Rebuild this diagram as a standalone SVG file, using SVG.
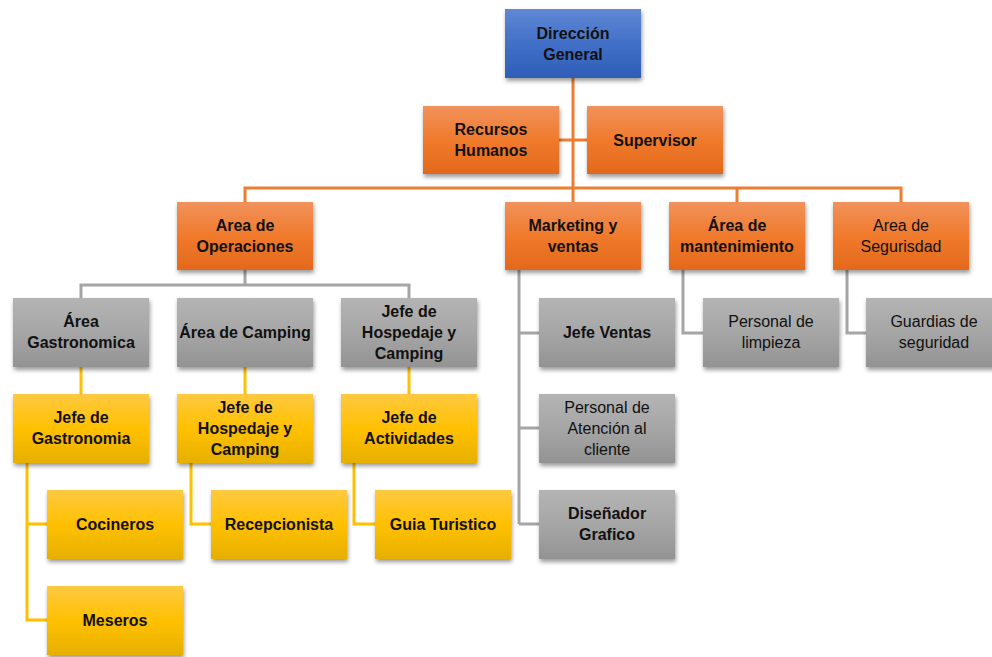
<svg xmlns="http://www.w3.org/2000/svg" width="992" height="657" viewBox="0 0 992 657">
<defs>
<linearGradient id="gBlue" x1="0" y1="0" x2="0" y2="1"><stop offset="0" stop-color="#5F88D3"/><stop offset="0.5" stop-color="#4270C8"/><stop offset="1" stop-color="#2E5DB6"/></linearGradient>
<linearGradient id="gOrange" x1="0" y1="0" x2="0" y2="1"><stop offset="0" stop-color="#F1925C"/><stop offset="0.5" stop-color="#F07A2C"/><stop offset="1" stop-color="#E2691B"/></linearGradient>
<linearGradient id="gGray" x1="0" y1="0" x2="0" y2="1"><stop offset="0" stop-color="#B4B4B4"/><stop offset="0.5" stop-color="#A6A6A6"/><stop offset="1" stop-color="#939393"/></linearGradient>
<linearGradient id="gYellow" x1="0" y1="0" x2="0" y2="1"><stop offset="0" stop-color="#FFC942"/><stop offset="0.5" stop-color="#FFC000"/><stop offset="1" stop-color="#E6B000"/></linearGradient>
<filter id="sh" x="-10%" y="-10%" width="125%" height="135%"><feDropShadow dx="1" dy="3" stdDeviation="2" flood-color="#000" flood-opacity="0.4"/></filter>
</defs>
<style>
.blue{fill:url(#gBlue);filter:url(#sh)}
.orange{fill:url(#gOrange);filter:url(#sh)}
.gray{fill:url(#gGray);filter:url(#sh)}
.yellow{fill:url(#gYellow);filter:url(#sh)}
text{font-family:"Liberation Sans",Arial,sans-serif;font-size:16px;fill:#111;text-anchor:middle}
.b{font-weight:bold}
.lo{fill:none;stroke:#ED7D31;stroke-width:3}
.lg{fill:none;stroke:#A5A5A5;stroke-width:3}
.ly{fill:none;stroke:#FFC000;stroke-width:3}
</style>
<rect width="992" height="657" fill="#fff"/>
<g id="connectors">
<path class="lo" d="M573 78V202M559 140H587M245 202V188H901V202M737 188V202"/>
<path class="lg" d="M245 270V285M81 298V285H409V298M519 270V524M519 333H539M519 428H539M519 524H539M683 270V333H703M847 270V333H866"/>
<path class="ly" d="M81 367V394M245 367V394M409 367V394M27 463V620H47M27 524H47M191 463V524H211M354 463V524H375"/>
</g>
<g id="n-direccion"><rect class="blue" x="505" y="9" width="136" height="69"/><text class="b" x="573" y="39">Dirección</text><text class="b" x="573" y="60">General</text></g>
<g id="n-rrhh"><rect class="orange" x="423" y="106" width="136" height="68"/><text class="b" x="491" y="135">Recursos</text><text class="b" x="491" y="156">Humanos</text></g>
<g id="n-supervisor"><rect class="orange" x="587" y="106" width="136" height="68"/><text class="b" x="655" y="146">Supervisor</text></g>
<g id="n-operaciones"><rect class="orange" x="177" y="202" width="136" height="68"/><text class="b" x="245" y="231">Area de</text><text class="b" x="245" y="252">Operaciones</text></g>
<g id="n-marketing"><rect class="orange" x="505" y="202" width="136" height="68"/><text class="b" x="573" y="231">Marketing y</text><text class="b" x="573" y="252">ventas</text></g>
<g id="n-mantenimiento"><rect class="orange" x="669" y="202" width="136" height="68"/><text class="b" x="737" y="231">Área de</text><text class="b" x="737" y="252">mantenimiento</text></g>
<g id="n-seguridad"><rect class="orange" x="833" y="202" width="136" height="68"/><text x="901" y="231">Area de</text><text x="901" y="252">Segurisdad</text></g>
<g id="n-gastronomica"><rect class="gray" x="13" y="298" width="136" height="69"/><text class="b" x="81" y="327">Área</text><text class="b" x="81" y="348">Gastronomica</text></g>
<g id="n-camping"><rect class="gray" x="177" y="298" width="136" height="69"/><text class="b" x="245" y="338">Área de Camping</text></g>
<g id="n-jhospedaje1"><rect class="gray" x="341" y="298" width="136" height="69"/><text class="b" x="409" y="317">Jefe de</text><text class="b" x="409" y="338">Hospedaje y</text><text class="b" x="409" y="359">Camping</text></g>
<g id="n-jefeventas"><rect class="gray" x="539" y="298" width="136" height="69"/><text class="b" x="607" y="338">Jefe Ventas</text></g>
<g id="n-limpieza"><rect class="gray" x="703" y="298" width="136" height="69"/><text x="771" y="327">Personal de</text><text x="771" y="348">limpieza</text></g>
<g id="n-guardias"><rect class="gray" x="866" y="298" width="136" height="69"/><text x="934" y="327">Guardias de</text><text x="934" y="348">seguridad</text></g>
<g id="n-atencion"><rect class="gray" x="539" y="394" width="136" height="69"/><text x="607" y="413">Personal de</text><text x="607" y="434">Atención al</text><text x="607" y="455">cliente</text></g>
<g id="n-disenador"><rect class="gray" x="539" y="490" width="136" height="69"/><text class="b" x="607" y="519">Diseñador</text><text class="b" x="607" y="540">Grafico</text></g>
<g id="n-jgastronomia"><rect class="yellow" x="13" y="394" width="136" height="69"/><text class="b" x="81" y="423">Jefe de</text><text class="b" x="81" y="444">Gastronomia</text></g>
<g id="n-jhospedaje2"><rect class="yellow" x="177" y="394" width="136" height="69"/><text class="b" x="245" y="413">Jefe de</text><text class="b" x="245" y="434">Hospedaje y</text><text class="b" x="245" y="455">Camping</text></g>
<g id="n-jactividades"><rect class="yellow" x="341" y="394" width="136" height="69"/><text class="b" x="409" y="423">Jefe de</text><text class="b" x="409" y="444">Actividades</text></g>
<g id="n-cocineros"><rect class="yellow" x="47" y="490" width="136" height="69"/><text class="b" x="115" y="530">Cocineros</text></g>
<g id="n-recepcionista"><rect class="yellow" x="211" y="490" width="136" height="69"/><text class="b" x="279" y="530">Recepcionista</text></g>
<g id="n-guia"><rect class="yellow" x="375" y="490" width="136" height="69"/><text class="b" x="443" y="530">Guia Turistico</text></g>
<g id="n-meseros"><rect class="yellow" x="47" y="586" width="136" height="69"/><text class="b" x="115" y="626">Meseros</text></g>
</svg>
